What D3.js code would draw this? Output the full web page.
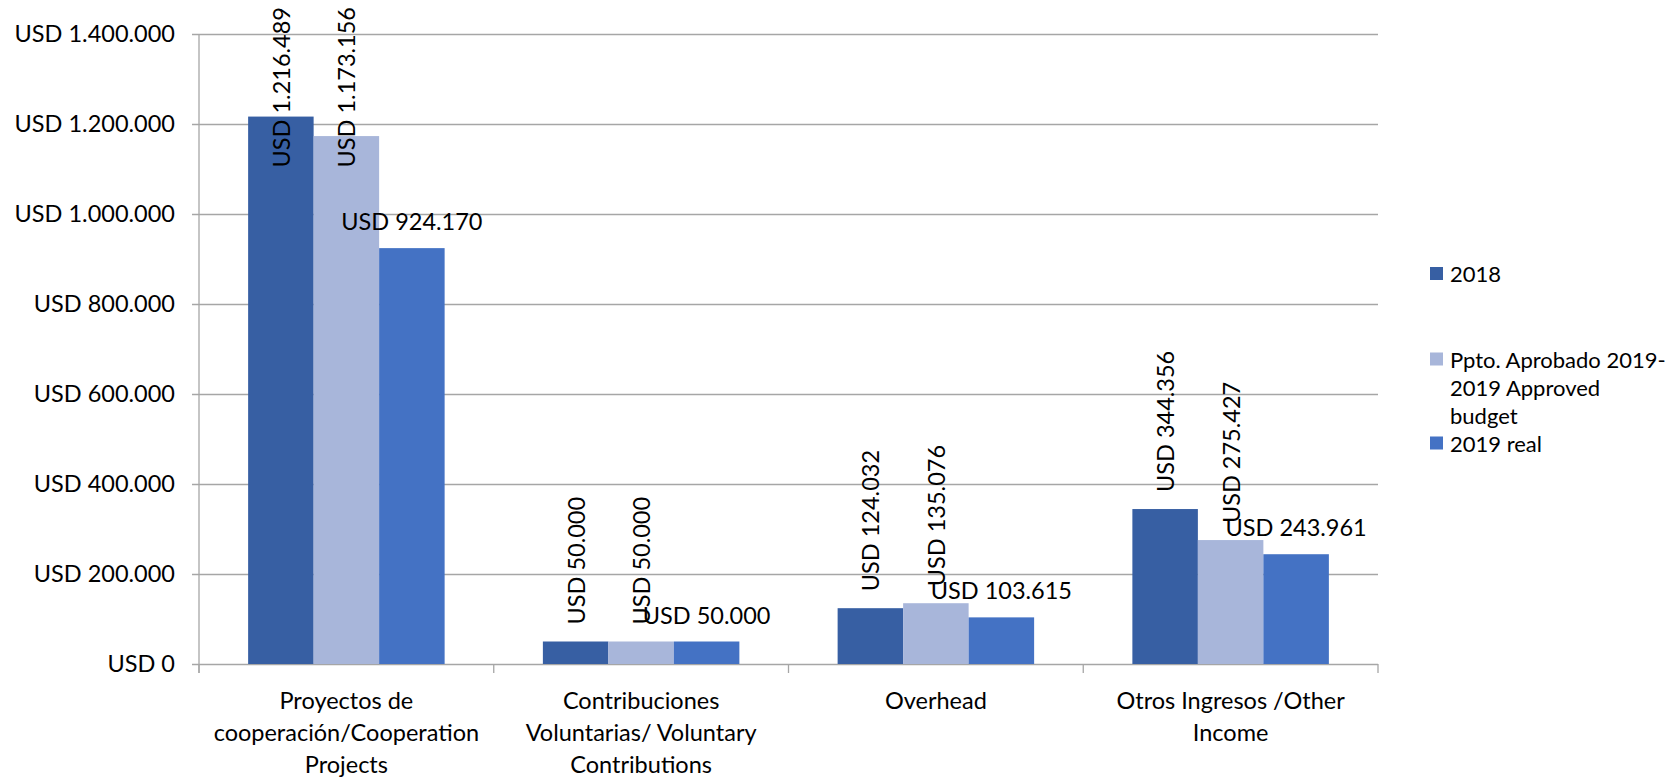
<!DOCTYPE html>
<html>
<head>
<meta charset="utf-8">
<script src="https://cdn.jsdelivr.net/npm/d3@7"></script>
<style>
  html, body { margin: 0; padding: 0; background: #ffffff; }
  svg { display: block; font-family: Lato, "Open Sans", sans-serif; }
</style>
</head>
<body>
<svg id="chart" width="1675" height="777"></svg>
<script>
// Income by category, three series
const categories = [
  "Proyectos de cooperación/Cooperation Projects",
  "Contribuciones Voluntarias/ Voluntary Contributions",
  "Overhead",
  "Otros Ingresos /Other Income"
];
const categoryLines = [
  ["Proyectos de", "cooperación/Cooperation", "Projects"],
  ["Contribuciones", "Voluntarias/ Voluntary", "Contributions"],
  ["Overhead"],
  ["Otros Ingresos /Other", "Income"]
];
const seriesNames = ["2018", "Ppto. Aprobado 2019-2019 Approved budget", "2019 real"];
const legendLines = [["2018"], ["Ppto. Aprobado 2019-", "2019 Approved", "budget"], ["2019 real"]];
const values2018 = [1216489, 50000, 124032, 344356];
const valuesBudget2019 = [1173156, 50000, 135076, 275427];
const valuesReal2019 = [924170, 50000, 103615, 243961];
const yTicks = [0, 200000, 400000, 600000, 800000, 1000000, 1200000, 1400000];
const colors = ["#375FA3", "#A8B6DA", "#4472C4"];

const series = [values2018, valuesBudget2019, valuesReal2019];

// Spanish-style thousands separator
const fmt = v => "USD " + d3.format(",")(v).replace(/,/g, ".");

const svg = d3.select("#chart");
const plot = { left: 199, right: 1378, top: 34, bottom: 664 };
const numSize = 23.5;   // value and axis numbers
const catSize = 23.5;   // category names
const legSize = 22;     // legend entries
const fontFamily = "Lato, 'Open Sans', sans-serif";

const x = d3.scaleBand().domain(categories).range([plot.left, plot.right]).padding(0);
const inner = d3.scaleBand().domain(d3.range(series.length))
  .range([x.bandwidth() / 6, x.bandwidth() * 5 / 6]).padding(0);
const y = d3.scaleLinear().domain([0, 1400000]).range([plot.bottom, plot.top]);

// Gridlines and value axis
const yAxis = d3.axisLeft(y).tickValues(yTicks).tickFormat(fmt)
  .tickSize(-(plot.right - plot.left)).tickPadding(0);
const gy = svg.append("g").attr("transform", `translate(${plot.left},0)`).call(yAxis);
gy.select(".domain").remove();
gy.selectAll(".tick line").attr("stroke", "#A6A6A6").attr("stroke-width", 1.3).attr("x1", -7);
gy.selectAll(".tick text")
  .attr("x", -24).attr("fill", "#000").attr("font-size", numSize)
  .attr("font-family", fontFamily);

// Vertical axis line
svg.append("line")
  .attr("x1", plot.left).attr("x2", plot.left)
  .attr("y1", plot.top).attr("y2", plot.bottom + 9)
  .attr("stroke", "#A6A6A6").attr("stroke-width", 1.3);

// Category axis with boundary ticks
const boundaries = categories.map(c => x(c)).concat([plot.right]);
svg.append("g").selectAll("line").data(boundaries).join("line")
  .attr("x1", d => d).attr("x2", d => d)
  .attr("y1", plot.bottom).attr("y2", plot.bottom + 9)
  .attr("stroke", "#A6A6A6").attr("stroke-width", 1.3);

const catG = svg.append("g").selectAll("text").data(categories).join("text")
  .attr("text-anchor", "middle").attr("font-size", catSize).attr("fill", "#000")
  .attr("transform", c => `translate(${x(c) + x.bandwidth() / 2},0)`);
catG.each(function (c, i) {
  d3.select(this).selectAll("tspan").data(categoryLines[i]).join("tspan")
    .attr("x", 0).attr("y", (d, j) => 700 + j * 32).attr("dominant-baseline", "central")
    .text(d => d);
});

// Bars
const groups = svg.append("g").selectAll("g").data(categories).join("g")
  .attr("transform", c => `translate(${x(c)},0)`);
groups.selectAll("rect")
  .data((c, i) => series.map((s, k) => ({ k, v: s[i] })))
  .join("rect")
  .attr("x", d => inner(d.k)).attr("width", inner.bandwidth())
  .attr("y", d => y(d.v)).attr("height", d => plot.bottom - y(d.v))
  .attr("fill", d => colors[d.k]);

// Data labels: rotated for the first two series, horizontal for the third
groups.each(function (c, i) {
  const g = d3.select(this);
  series.forEach((s, k) => {
    const cx = inner(k) + inner.bandwidth() / 2;
    const top = y(s[i]);
    if (k < 2) {
      const t = g.append("text")
        .attr("font-size", numSize).attr("fill", "#000")
        .attr("text-anchor", "start").attr("dominant-baseline", "central")
        .text(fmt(s[i]));
      const len = t.node().getComputedTextLength();
      const start = Math.max(top - 17, 7 + len);
      t.attr("transform", `translate(${cx},${start}) rotate(-90)`);
    } else {
      g.append("text")
        .attr("x", cx).attr("y", top - 27)
        .attr("font-size", numSize).attr("fill", "#000")
        .attr("text-anchor", "middle").attr("dominant-baseline", "central")
        .text(fmt(s[i]));
    }
  });
});

// Legend
const legendY = [273.5, 359, 443];
const lg = svg.append("g").selectAll("g").data(seriesNames).join("g")
  .attr("transform", (d, i) => `translate(1430,${legendY[i]})`);
lg.append("rect").attr("x", 0).attr("y", -6.5).attr("width", 13).attr("height", 13)
  .attr("fill", (d, i) => colors[i]);
lg.each(function (d, i) {
  d3.select(this).append("text")
    .attr("font-size", legSize).attr("fill", "#000")
    .selectAll("tspan").data(legendLines[i]).join("tspan")
    .attr("x", 20).attr("y", (t, j) => j * 28).attr("dominant-baseline", "central")
    .text(t => t);
});
</script>
</body>
</html>
